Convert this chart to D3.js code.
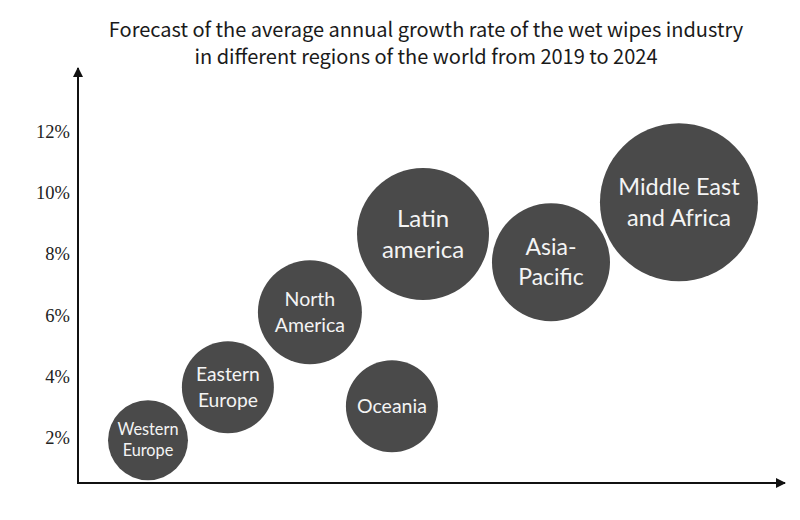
<!DOCTYPE html>
<html>
<head>
<meta charset="utf-8">
<script src="https://cdn.jsdelivr.net/npm/d3@7"></script>
<style>
  html, body { margin: 0; padding: 0; background: #ffffff; }
  svg { display: block; }
</style>
</head>
<body>
<svg id="chart" width="800" height="520"></svg>
<script>
// ---- data ----
const categories = ["Western Europe", "Eastern Europe", "North America", "Oceania", "Latin america", "Asia-Pacific", "Middle East and Africa"];
const labelLines = [["Western", "Europe"], ["Eastern", "Europe"], ["North", "America"], ["Oceania"], ["Latin", "america"], ["Asia-", "Pacific"], ["Middle East", "and Africa"]];
const xPositions = [0.99, 2.12, 3.28, 4.44, 4.88, 6.69, 8.50];      // horizontal placement (no axis values shown)
const growthRates = [1.92, 3.65, 6.10, 3.03, 8.65, 7.73, 9.69];     // average annual growth rate (%)
const bubbleSizes = [25.6, 33.9, 43.3, 33.9, 69.8, 55.8, 100];      // relative bubble size
const yTickValues = [2, 4, 6, 8, 10, 12];
const titleLines = ["Forecast of the average annual growth rate of the wet wipes industry", "in different regions of the world from 2019 to 2024"];

// ---- styles ----
const labelFontSizes = [16.3, 19.3, 19.5, 19.5, 24, 23, 23.5];
const bubbleColor = "#4a4a4a";

const svg = d3.select("#chart");
const plotLeft = 78, plotBottom = 483, plotRight = 785, plotTop = 68;

const x = d3.scaleLinear().domain([0, 10]).range([plotLeft, plotRight]);
const y = d3.scaleLinear().domain([0, 12]).range([499, 131.5]);
const r = d3.scaleSqrt().domain([0, 100]).range([0, 79]);

// title
svg.append("g").selectAll("text").data(titleLines).join("text")
  .attr("x", 426).attr("y", (d, i) => 37 + i * 27)
  .attr("text-anchor", "middle")
  .attr("font-family", "'Noto Sans CJK SC', 'Noto Sans', sans-serif")
  .attr("font-size", 20)
  .attr("fill", "#1a1a1a")
  .text(d => d);

// arrow marker
const defs = svg.append("defs");
defs.append("marker").attr("id", "arrow")
  .attr("viewBox", "0 0 10 10").attr("refX", 9).attr("refY", 5)
  .attr("markerWidth", 5).attr("markerHeight", 5).attr("orient", "auto")
  .append("path").attr("d", "M0,0 L10,5 L0,10 z").attr("fill", "#111");

// y axis line
svg.append("line").attr("x1", plotLeft).attr("y1", plotBottom).attr("x2", plotLeft).attr("y2", plotTop)
  .attr("stroke", "#111").attr("stroke-width", 2).attr("marker-end", "url(#arrow)");
// x axis line
svg.append("line").attr("x1", plotLeft - 1).attr("y1", plotBottom).attr("x2", plotRight).attr("y2", plotBottom)
  .attr("stroke", "#111").attr("stroke-width", 2).attr("marker-end", "url(#arrow)");

// y tick labels through axis
const yAxis = d3.axisLeft(y).tickValues(yTickValues).tickSize(0).tickPadding(0).tickFormat(d => d + "%");
const yg = svg.append("g").attr("transform", `translate(${plotLeft - 8},0)`).call(yAxis);
yg.select(".domain").remove();
yg.selectAll("text")
  .attr("font-family", "'Liberation Serif', 'DejaVu Serif', serif")
  .attr("font-size", 18.5)
  .attr("fill", "#222");

// bubbles
const data = categories.map((c, i) => ({
  name: c, lines: labelLines[i], xv: xPositions[i], yv: growthRates[i], s: bubbleSizes[i], fs: labelFontSizes[i]
}));

const g = svg.append("g").selectAll("g").data(data).join("g")
  .attr("transform", d => `translate(${x(d.xv)},${y(d.yv)})`);

g.append("circle").attr("r", d => r(d.s)).attr("fill", bubbleColor);

g.each(function (d) {
  const t = d3.select(this).append("text")
    .attr("text-anchor", "middle")
    .attr("font-family", "Lato, 'Open Sans', sans-serif")
    .attr("font-size", d.fs)
    .attr("fill", "#f4f4f4");
  const n = d.lines.length;
  d.lines.forEach((line, i) => {
    let baseline;
    if (n === 1) baseline = 0.35 * d.fs;
    else baseline = -0.3 * d.fs + i * 1.3 * d.fs;
    t.append("tspan").attr("x", 0).attr("y", baseline).text(line);
  });
});
</script>
</body>
</html>
